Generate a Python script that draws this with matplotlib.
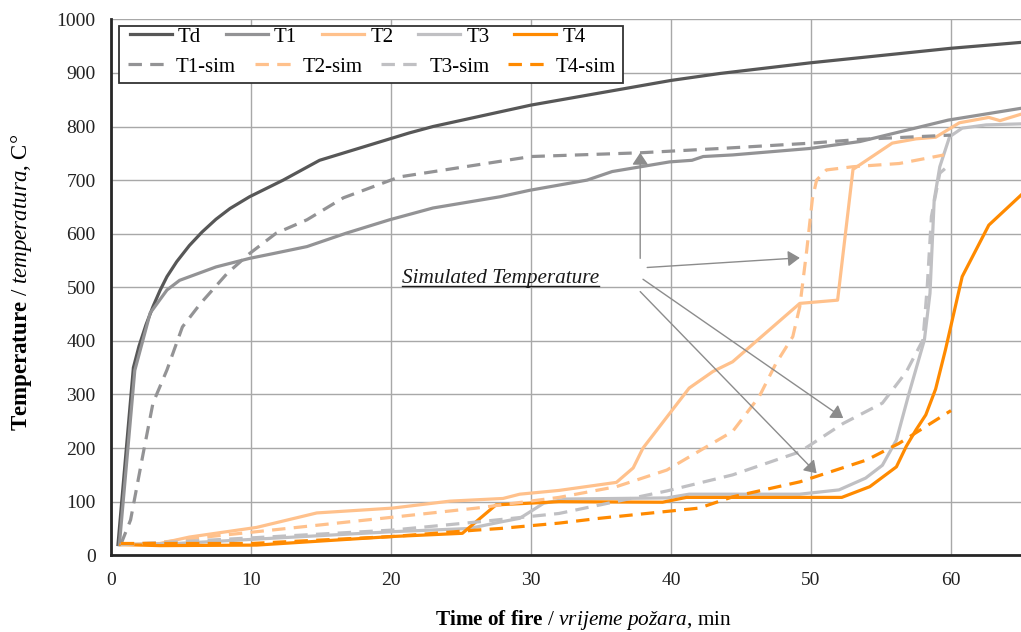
import matplotlib
matplotlib.use("Agg")
import matplotlib.pyplot as plt
from matplotlib.patches import Rectangle
from matplotlib.lines import Line2D

plt.rcParams["font.family"] = ["Liberation Serif", "DejaVu Serif"]
plt.rcParams["mathtext.fontset"] = "custom"
plt.rcParams["mathtext.rm"] = "Liberation Serif"
plt.rcParams["mathtext.it"] = "Liberation Serif:italic"
plt.rcParams["mathtext.bf"] = "Liberation Serif:bold"

# ---- measured furnace / element temperatures (time in min, temperature in C) ----
td_t = [0.5, 1.6, 2.0, 2.5, 3.0, 3.5, 4.0, 4.7, 5.6, 6.5, 7.5, 8.5, 9.9, 12.3, 14.9,
        21.3, 23, 30, 40, 43.5, 50, 60, 65]
td_v = [20, 350, 390, 430, 464, 494, 520, 548, 578, 603, 627, 647, 669, 700, 737,
        788, 800, 840, 886, 899, 919, 946, 957]

t1_t = [0.6, 1.7, 2.8, 4.0, 4.9, 7.5, 9.9, 11.6, 14, 16.8, 19.9, 23, 27.8, 29.9, 34, 35.8,
        39.9, 41.5, 42.3, 44.4, 49.9, 53.5, 59.8, 65]
t1_v = [20, 345, 452, 495, 513, 538, 554, 563, 576, 601, 626, 648, 669, 681, 700, 716,
        734, 737, 744, 747, 759, 772, 812, 834]

t2_t = [0.7, 3.5, 5.6, 10.4, 14.7, 20.1, 24.2, 28, 29.2, 32, 36.1, 37.3, 38, 41.3, 43, 44.4,
        49.2, 51.9, 53, 54.2, 55.8, 57.5, 58.9, 60.6, 62.7, 63.5, 65]
t2_v = [20, 22, 34, 52, 79, 88, 101, 106, 114, 121, 136, 163, 200, 312, 343, 361,
        470, 476, 720, 741, 769, 777, 780, 807, 817, 811, 823]

t3_t = [0.7, 4.7, 20.1, 25.6, 27.8, 29.2, 30.9, 32.5, 39.7, 41.3, 49.2, 52, 53.9, 55.1, 56.1,
        57, 58.1, 58.5, 58.8, 59.2, 59.9, 60.8, 62.5, 65]
t3_v = [20, 22, 44, 50, 62, 69, 97, 105, 107, 114, 114, 122, 144, 168, 215,
        302, 402, 489, 663, 725, 781, 797, 803, 805]

t4_t = [0.7, 3.5, 10.4, 20.1, 25.1, 27.5, 32, 39.4, 41.1, 52.2, 54.2, 56.1, 56.8, 57.5, 58.2,
        58.9, 59.6, 60.8, 62.7, 65]
t4_v = [20, 18, 19, 35, 41, 94, 100, 99, 108, 108, 128, 165, 203, 234, 262,
        310, 383, 520, 616, 672]

# ---- simulated temperatures ----
s1_t = [0.7, 1.4, 2.3, 3.0, 4.0, 5.1, 6.4, 8.3, 9.9, 11.8, 14, 16.6, 20.6, 30, 37.8, 43.5,
        50, 53.5, 60]
s1_v = [20, 66, 190, 284, 346, 426, 470, 526, 563, 601, 626, 667, 706, 744, 751, 759,
        769, 776, 784]

s2_t = [0.7, 3.5, 7.1, 10.4, 20.1, 26.1, 32, 36.1, 39.7, 44.4, 46.3, 47.5, 48.7, 49.2, 49.7,
        50.1, 50.4, 51.1, 53, 56.3, 59.5]
s2_v = [20, 24, 35, 44, 71, 88, 108, 128, 159, 231, 296, 358, 408, 464, 570,
        665, 700, 719, 725, 731, 747]

s3_t = [0.7, 4.7, 10.4, 20.1, 26.1, 32, 39.7, 44.4, 49.2, 52.3, 55.1, 56.8, 58, 58.3, 58.6,
        59.2, 60]
s3_v = [20, 25, 33, 47, 62, 78, 120, 150, 193, 246, 284, 342, 402, 500, 632,
        713, 731]

s4_t = [0.7, 10, 20.1, 26.1, 27.8, 32, 34.9, 42, 44.4, 49.2, 54, 56.3, 60]
s4_v = [22, 22, 35, 47, 50, 60, 69, 88, 109, 137, 178, 209, 270]

labels_meas = ["Td", "T1", "T2", "T3", "T4"]
labels_sim = ["T1-sim", "T2-sim", "T3-sim", "T4-sim"]

c_td = "#575757"
c_t1 = "#939395"
c_t2 = "#FFC18C"
c_t3 = "#C0C0C3"
c_t4 = "#FF8A00"

fig = plt.figure(figsize=(10.21, 6.32), dpi=100)
ax = fig.add_axes([0.1087, 0.1214, 0.8913, 0.848])

lw = 2.3
dash = (4.2, 2.6)
h_td, = ax.plot(td_t, td_v, color=c_td, lw=lw, zorder=3)
h_t1, = ax.plot(t1_t, t1_v, color=c_t1, lw=lw, zorder=3)
h_t2, = ax.plot(t2_t, t2_v, color=c_t2, lw=lw, zorder=3)
h_t3, = ax.plot(t3_t, t3_v, color=c_t3, lw=lw, zorder=3)
h_t4, = ax.plot(t4_t, t4_v, color=c_t4, lw=lw, zorder=3)
h_s1, = ax.plot(s1_t, s1_v, color=c_t1, lw=lw, dashes=dash, zorder=3)
h_s2, = ax.plot(s2_t, s2_v, color=c_t2, lw=lw, dashes=dash, zorder=3)
h_s3, = ax.plot(s3_t, s3_v, color=c_t3, lw=lw, dashes=dash, zorder=3)
h_s4, = ax.plot(s4_t, s4_v, color=c_t4, lw=lw, dashes=dash, zorder=3)

ax.set_xlim(0, 65)
ax.set_ylim(0, 1000)
ax.set_xticks(range(0, 61, 10))
ax.set_yticks(range(0, 1001, 100))
ax.grid(True, color="#a8a8a8", lw=1.0, zorder=0)
ax.set_axisbelow(True)
ax.tick_params(length=0, labelsize=14, colors="#222222")
ax.tick_params(axis="y", pad=11)
ax.tick_params(axis="x", pad=12)
for s in ("top", "right"):
    ax.spines[s].set_visible(False)
for s in ("left", "bottom"):
    ax.spines[s].set_linewidth(2.0)
    ax.spines[s].set_color("#262626")

# annotation pointing at the simulated curves
arrow_kw = dict(arrowstyle="-|>,head_length=0.6,head_width=0.4", color="#8c8c8c",
                lw=1.0, shrinkA=0, shrinkB=0, mutation_scale=12)
ax.annotate("", xy=(37.8, 751), xytext=(37.8, 554), arrowprops=arrow_kw, zorder=4)
ax.annotate("", xy=(49.2, 555), xytext=(38.3, 537), arrowprops=arrow_kw, zorder=4)
ax.annotate("", xy=(52.3, 256), xytext=(38.0, 515), arrowprops=arrow_kw, zorder=4)
ax.annotate("", xy=(50.4, 153), xytext=(37.8, 492), arrowprops=arrow_kw, zorder=4)
sim_txt = ax.text(20.8, 517, "Simulated Temperature", fontsize=15.3, style="italic",
                  ha="left", va="center", color="#1a1a1a", zorder=5)

# legend: frame plus two rows
ax.add_patch(Rectangle((0.0088, 0.881), 0.5538, 0.1065, transform=ax.transAxes,
                       facecolor="white", edgecolor="#333333", lw=1.3, zorder=6))
leg_kw = dict(frameon=False, fontsize=15, handlelength=2.0, handletextpad=0.3,
              borderpad=0, borderaxespad=0, loc="center left")
leg1 = ax.legend([h_td, h_t1, h_t2, h_t3, h_t4], labels_meas, ncol=5,
                 columnspacing=1.2, bbox_to_anchor=(0.0209, 0.9675), **leg_kw)
leg1.set_zorder(7)
ax.add_artist(leg1)
leg2 = ax.legend([h_s1, h_s2, h_s3, h_s4], labels_sim, ncol=4,
                 columnspacing=0.9, bbox_to_anchor=(0.0187, 0.9116), **leg_kw)
leg2.set_zorder(7)

fig.text(22 / 1021, 1 - 282 / 632,
         r"$\mathbf{Temperature}$ / $\mathit{temperatura}$, C°",
         rotation=90, ha="center", va="center", fontsize=16.5)
fig.text(583 / 1021, 1 - 620 / 632,
         r"$\mathbf{Time\ of\ fire}$ / $\mathit{vrijeme\ požara}$, min",
         ha="center", va="center", fontsize=15.3)

# underline the annotation text
fig.canvas.draw()
bb = sim_txt.get_window_extent().transformed(fig.transFigure.inverted())
fig.add_artist(Line2D([bb.x0, bb.x1], [bb.y0 + 0.002, bb.y0 + 0.002],
                      transform=fig.transFigure, color="#1a1a1a", lw=1.0))

fig.savefig("out.png", dpi=100)
